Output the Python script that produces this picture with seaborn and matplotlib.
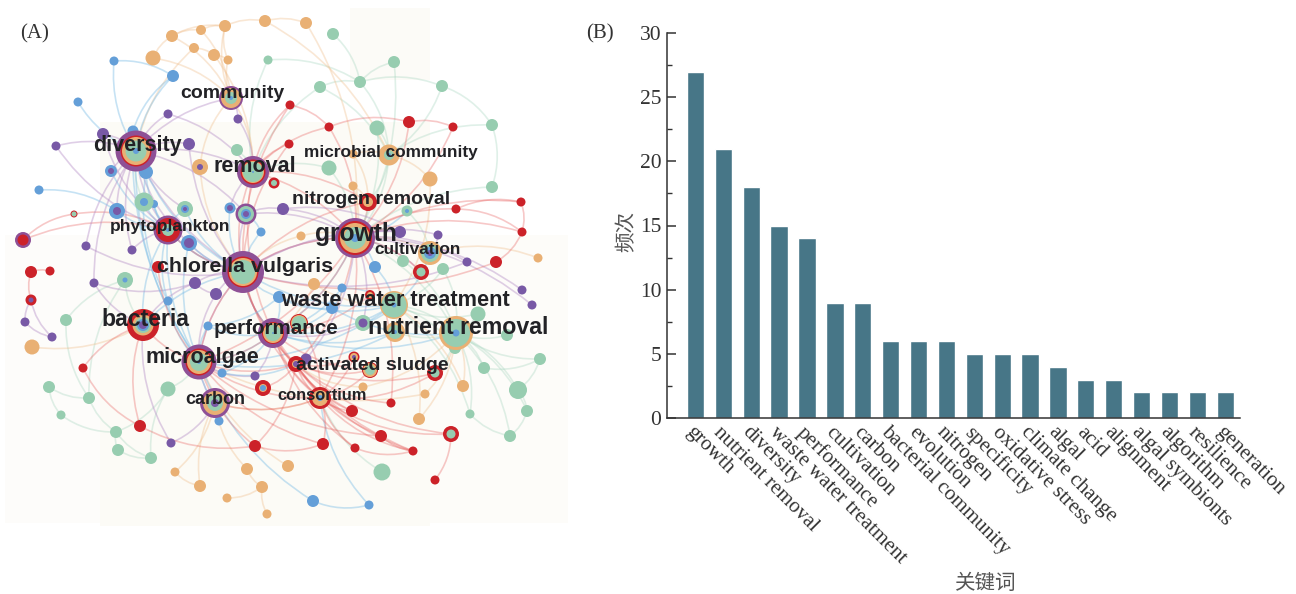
import matplotlib
matplotlib.use("Agg")
import matplotlib.pyplot as plt
from matplotlib.path import Path
from matplotlib.patches import PathPatch, Rectangle
from matplotlib.ticker import MultipleLocator
import pandas as pd
import seaborn as sns

sns.set_style("ticks")
plt.rcParams["font.family"] = ["Liberation Serif", "Noto Sans CJK SC", "DejaVu Sans"]

# ---------- panel B data ----------
keywords = ["growth", "nutrient removal", "diversity", "waste water treatment", "performance",
            "cultivation", "carbon", "bacterial community", "evolution", "nitrogen", "specificity",
            "oxidative stress", "climate change", "algal", "acid", "alignment", "algal symbionts",
            "algorithm", "resilience", "generation"]
frequency = [27, 21, 18, 15, 14, 9, 9, 6, 6, 6, 5, 5, 5, 4, 3, 3, 2, 2, 2, 2]

# ---------- panel A data: hubs with concentric rings (outer to inner) ----------
hub_key = list("CDERPGLHWNBMFAOSITYKQUVXZJ") + list("abcdefghijklmno")
hub_x = [231, 136, 200, 253, 168, 355, 430, 243, 394, 456, 143, 199, 273, 215, 320, 296, 389, 368, 246, 421, 370, 363, 395, 435, 451, 299,
         111, 117, 185, 230, 189, 23, 31, 74, 274, 407, 125, 144, 370, 354, 263]
hub_y = [98, 151, 167, 172, 230, 238, 253, 272, 305, 333, 325, 362, 333, 403, 398, 364, 155, 202, 214, 272, 370, 323, 332, 373, 434, 323,
         171, 211, 209, 208, 243, 240, 300, 214, 183, 211, 280, 202, 295, 357, 388]
hub_rings = ["p12 o10 g6 b2", "p20.5 r15.5 o14 g10.5 b3", "o8 v3", "p16 r12.5 o11 g10 b1",
             "p14.5 r12 g6 b2", "p20 r17 o15 g11 b4", "o12 g9 b6 v3", "p21 r15.5 o14 g12",
             "o14 g12.5 b2.5", "o17 g14 b3.5", "r16 o10.5 g8 b6 v4", "p17.5 r13.5 o12 g9 b2",
             "p15 r11 o10 g8 b1", "p15 o12 g8 v4", "r11 o8 b3", "r8 o4 v3",
             "o10.5 g5 b2", "r9 o5", "p10.5 g8 b5 v3", "r8 g4.5", "r8 o7 g5", "g8 v4.5",
             "o10 g7 b2", "r8 g4.5", "r8 g4.5", "r9 o8 g7",
             "b6 v3", "b8 v4", "g8 b4 v2", "b5.5 v3", "b8 v5", "p8 r5.5", "r5.5 v2.5", "r3.5 g2.5",
             "r5.5 g3", "g5.5 b2", "g8 b2.5", "g9.5 b4", "r5 o3", "r5.5 o4 v2", "r8 o4 b3"]

# ---------- panel A data: single-colour nodes and the hubs they link to ----------
orange_x = [153, 172, 201, 225, 265, 194, 214, 228, 306, 353, 430, 301, 538, 353, 32, 175, 200, 247, 288, 227, 262, 267, 314, 463, 363, 425, 419]
orange_y = [58, 36, 30, 26, 21, 48, 55, 60, 23, 186, 179, 236, 258, 154, 347, 472, 486, 469, 466, 498, 487, 514, 284, 386, 387, 394, 419]
orange_r = [7.5, 6, 5, 6, 6, 5, 6, 4.5, 6, 4.5, 7.5, 4.5, 4.5, 4.5, 7.5, 4.5, 6, 6, 6, 4.5, 6, 4.5, 6, 6, 4.5, 4.5, 6]
orange_links = ["C", "C", "C", "C", "I", "D", "R", "C", "G", "GT", "IW", "GH", "L", "TI", "B", "A", "A", "A", "M", "", "", "", "WF", "NW", "SN", "NM", "NW"]
orange_chain = [(0, 1), (1, 2), (2, 3), (3, 4), (5, 6), (6, 7), (3, 7), (4, 8), (15, 16), (19, 20), (20, 21), (17, 20), (1, 3)]

blue_x = [114, 173, 78, 39, 133, 146, 261, 375, 168, 208, 279, 222, 219, 342, 332, 313, 369, 154]
blue_y = [61, 76, 102, 190, 131, 172, 232, 267, 301, 326, 297, 373, 421, 288, 308, 501, 505, 204]
blue_r = [4.5, 6, 4.5, 4.5, 5.5, 7, 4.5, 6, 4.5, 4.5, 6, 4.5, 4.5, 4.5, 6, 6, 4.5, 4]
blue_links = ["D", "D", "D", "b", "DM", "HP", "HY", "WG", "PM", "MF", "HFW", "FS", "A", "FW", "FN", "M", "O", "P"]
blue_chain = [(0, 1), (15, 16), (5, 8), (9, 10), (10, 14), (13, 14), (1, 4)]

purple_x = [168, 103, 56, 189, 238, 283, 86, 132, 400, 438, 467, 94, 195, 216, 255, 171, 25, 52, 522, 532, 306]
purple_y = [114, 134, 146, 144, 119, 209, 246, 250, 232, 235, 262, 283, 283, 294, 376, 443, 322, 337, 290, 305, 359]
purple_r = [4.5, 6, 4.5, 6, 4.5, 6, 4.5, 4.5, 6, 4.5, 4.5, 4.5, 6, 6, 4.5, 4.5, 4.5, 4.5, 4.5, 4.5, 5.5]
purple_links = ["DR", "DP", "DP", "DH", "RC", "GY", "DH", "DP", "GH", "GL", "GH", "DB", "BH", "HM", "MF", "AB", "g", "g", "G", "G", "GS"]
purple_chain = [(16, 17), (5, 8), (11, 12), (12, 13)]

red_x = [290, 289, 329, 409, 453, 456, 521, 522, 496, 31, 50, 158, 83, 140, 255, 352, 391, 323, 381, 355, 413, 435]
red_y = [105, 144, 127, 122, 127, 209, 202, 232, 262, 272, 271, 267, 368, 426, 446, 411, 403, 444, 436, 448, 451, 480]
red_r = [4.5, 4.5, 4.5, 6, 4.5, 4.5, 4.5, 4.5, 6, 6, 4.5, 6, 4.5, 6, 6, 6, 4.5, 6, 6, 4.5, 4.5, 4.5]
red_links = ["RH", "RH", "GR", "G", "G", "G", "G", "G", "H", "g", "", "M", "B", "B", "MS", "FSO", "GS", "MO", "SM", "FO", "SFO", "Z"]
red_chain = [(9, 10), (0, 2), (2, 3), (3, 4), (5, 6), (6, 7), (7, 8), (5, 7), (12, 13), (13, 14), (14, 17), (18, 20), (19, 20)]

green_x = [268, 237, 333, 394, 360, 320, 442, 377, 492, 329, 492, 403, 443, 66, 49, 89, 61, 168, 116, 118, 151, 478, 507, 455, 484, 540, 518, 527, 470, 510, 382]
green_y = [60, 150, 34, 62, 82, 87, 86, 128, 125, 168, 187, 261, 269, 320, 387, 398, 415, 389, 432, 450, 458, 314, 335, 348, 368, 359, 390, 411, 414, 436, 472]
green_r = [4.5, 6, 6, 6, 6, 6, 6, 7.5, 6, 7.5, 6, 6, 6, 6, 6, 6, 4.5, 7.5, 6, 6, 6, 7.5, 6, 6, 6, 6, 9, 6, 4.5, 6, 8.5]
green_links = ["R", "R", "", "G", "I", "RI", "I", "GI", "I", "RG", "G", "NG", "NW", "k", "", "k", "", "M", "", "", "", "NW", "N", "NW", "N", "N", "N", "N", "NW", "N", "O"]
green_chain = [(2, 4), (3, 4), (4, 5), (4, 6), (6, 8), (8, 10), (0, 4), (14, 15), (14, 16), (15, 18), (16, 18), (17, 18), (18, 19), (18, 20), (19, 20), (17, 20), (25, 26), (26, 27), (27, 29), (24, 25), (28, 29), (13, 15)]

links_red = ["RG", "RH", "RF", "GH", "GS", "GF", "GO", "HM", "HF", "HS", "HO", "MF", "MS", "MO", "FS", "FO", "SO",
             "TG", "TR", "MG", "TH", "BM", "fh", "fP", "hP", "PH", "QS", "QO", "QF", "XS", "XO", "ZO", "ZS", "JF", "JO", "oS", "mF", "nS", "nO", "KG", "AO"]
links_purple = ["CD", "DP", "DH", "DR", "DY", "GH", "GY", "GK", "PH", "YH", "eD", "aD", "bD", "cD", "dR", "dY", "eH", "UG", "UF", "FH", "MH", "AM"]
links_blue = ["PH", "PM", "HF", "HW", "MF", "MW", "FN", "FW", "BH", "PB", "DM", "bP", "cP", "dH", "cH", "eH", "eM", "LW", "VF", "VM", "jG", "UW", "FG", "AM", "aP", "lP"]
links_green = ["WN", "NV", "GN", "XN", "jL", "kB", "lD", "IG", "TI"]
links_orange = ["CR", "EH", "LG", "EC", "VW", "AO"]

panel_texts = ["community", "diversity", "removal", "microbial community", "nitrogen removal", "phytoplankton",
               "growth", "cultivation", "chlorella vulgaris", "waste water treatment", "nutrient removal",
               "bacteria", "performance", "microalgae", "activated sludge", "consortium", "carbon"]
panel_text_x = [232, 137, 255, 391, 371, 170, 356, 418, 245, 395, 458, 145, 276, 202, 372, 322, 215]
panel_text_y = [94, 146, 167, 152, 199, 227, 234, 249, 267, 301, 328, 319, 329, 358, 366, 396, 399]
panel_text_size = [14, 15.5, 15.5, 12.4, 14.0, 12.6, 17.7, 12.4, 15.4, 15.7, 16.7, 16.6, 14.9, 15.5, 14.0, 11.9, 13]

# ---------- styles ----------
node_palette = {"r": "#cc2229", "o": "#e9b074", "b": "#649fd8", "g": "#97cdb0", "p": "#8e5096", "v": "#7859a6", "w": "#fdfbf7"}
edge_palette = {"r": "#e8605f", "o": "#f0bd8a", "b": "#79bce6", "g": "#a3d4bd", "v": "#b48cc6"}
edge_alpha = {"r": 0.34, "o": 0.36, "b": 0.42, "g": 0.34, "v": 0.42}
CX, CY = 280, 270

fig = plt.figure(figsize=(12.96, 5.94), dpi=100)
W, H = 1296, 594

# ---------- panel A ----------
axA = fig.add_axes([0, 0, 600 / W, 1])
for (rx, ry, rw, rh, rc) in [(5, 235, 95, 288, "#fdfcfa"), (100, 122, 330, 404, "#fcfbf6"),
                             (350, 8, 80, 72, "#fcfbf7"), (430, 235, 138, 288, "#fdfcf9")]:
    axA.add_patch(Rectangle((rx, ry), rw, rh, fc=rc, ec="none", zorder=0))

hub_pos = {k: (x, y) for k, x, y in zip(hub_key, hub_x, hub_y)}


def draw_edge(p, q, code):
    mx, my = (p[0] + q[0]) / 2, (p[1] + q[1]) / 2
    dx, dy = q[0] - p[0], q[1] - p[1]
    c1 = (mx - 0.17 * dy, my + 0.17 * dx)
    c2 = (mx + 0.17 * dy, my - 0.17 * dx)
    d1 = (c1[0] - CX) ** 2 + (c1[1] - CY) ** 2
    d2 = (c2[0] - CX) ** 2 + (c2[1] - CY) ** 2
    ctrl = c1 if d1 > d2 else c2
    path = Path([p, ctrl, q], [Path.MOVETO, Path.CURVE3, Path.CURVE3])
    axA.add_patch(PathPatch(path, fc="none", ec=edge_palette[code], lw=1.2, alpha=edge_alpha[code], zorder=1))


clusters = [("g", green_x, green_y, green_r, green_links, green_chain),
            ("o", orange_x, orange_y, orange_r, orange_links, orange_chain),
            ("v", purple_x, purple_y, purple_r, purple_links, purple_chain),
            ("b", blue_x, blue_y, blue_r, blue_links, blue_chain),
            ("r", red_x, red_y, red_r, red_links, red_chain)]

for code, group in [("g", links_green), ("o", links_orange), ("v", links_purple), ("b", links_blue), ("r", links_red)]:
    for a, b in group:
        draw_edge(hub_pos[a], hub_pos[b], code)

mark_x, mark_y, mark_s, mark_c = [], [], [], []
for code, xs, ys, rs, links, chain in clusters:
    for x, y, link in zip(xs, ys, links):
        for k in link:
            draw_edge((x, y), hub_pos[k], code)
    for i, j in chain:
        draw_edge((xs[i], ys[i]), (xs[j], ys[j]), code)
    for x, y, r in zip(xs, ys, rs):
        mark_x.append(x); mark_y.append(y); mark_c.append(code)
        mark_s.append((2 * r * 0.72) ** 2)

for x, y, rings in zip(hub_x, hub_y, hub_rings):
    for ring in rings.split():
        mark_x.append(x); mark_y.append(y); mark_c.append(ring[0])
        mark_s.append((2 * float(ring[1:]) * 0.72) ** 2)

marks = pd.DataFrame({"x": mark_x, "y": mark_y, "s": mark_s, "c": mark_c})
sns.scatterplot(data=marks, x="x", y="y", hue="c", palette=node_palette, size="s",
                sizes=(marks.s.min(), marks.s.max()), size_norm=(marks.s.min(), marks.s.max()),
                linewidth=0, legend=False, ax=axA, zorder=3)
axA.set_xlim(0, 600)
axA.set_ylim(594, 0)
axA.axis("off")

for t, x, y, fs in zip(panel_texts, panel_text_x, panel_text_y, panel_text_size):
    axA.text(x, y, t, fontsize=fs, fontweight="bold", family="Liberation Sans", color="#222226",
             ha="center", va="center", zorder=5)
axA.text(20, 34, "(A)", fontsize=15, color="#333333", ha="left", va="center", zorder=5)

# ---------- panel B ----------
axB = fig.add_axes([667 / W, 1 - 418 / H, (1240 - 667) / W, (418 - 33) / H])
sns.barplot(x=keywords, y=frequency, color="#477687", saturation=1, width=0.62, ax=axB)
axB.set_xlim(-1.02, 19.53)
axB.set_ylim(0, 30)
axB.yaxis.set_major_locator(MultipleLocator(5))
axB.yaxis.set_minor_locator(MultipleLocator(2.5))
axB.tick_params(axis="y", which="major", direction="in", length=6.5, width=1.1, color="#333333",
                labelsize=15.5, labelcolor="#333333", pad=4)
axB.tick_params(axis="y", which="minor", direction="in", length=3.5, width=1.0, color="#333333")
axB.tick_params(axis="x", length=0, pad=3.5)
axB.set_xticks(range(len(keywords)))
axB.set_xticklabels(keywords, rotation=-45, ha="left", va="top", rotation_mode="anchor",
                    fontsize=15.1, color="#333333")
for s in ["top", "right"]:
    axB.spines[s].set_visible(False)
for s in ["left", "bottom"]:
    axB.spines[s].set_linewidth(1.1)
    axB.spines[s].set_color("#333333")
axB.set_ylabel("频次", fontsize=14.8, color="#555555", fontfamily="Noto Sans CJK SC", fontweight="light", va="center")
axB.set_xlabel("关键词", fontsize=14.8, color="#555555", fontfamily="Noto Sans CJK SC", fontweight="light", va="center")
axB.xaxis.set_label_coords((985 - 667) / (1240 - 667), -(583 - 418) / (418 - 33), transform=axB.transAxes)
axB.yaxis.set_label_coords((627 - 667) / (1240 - 667), (418 - 232) / (418 - 33), transform=axB.transAxes)
fig.text(586 / W, 1 - 34 / H, "(B)", fontsize=15, color="#333333", ha="left", va="center")

fig.savefig("out.png", dpi=100, facecolor="white")
